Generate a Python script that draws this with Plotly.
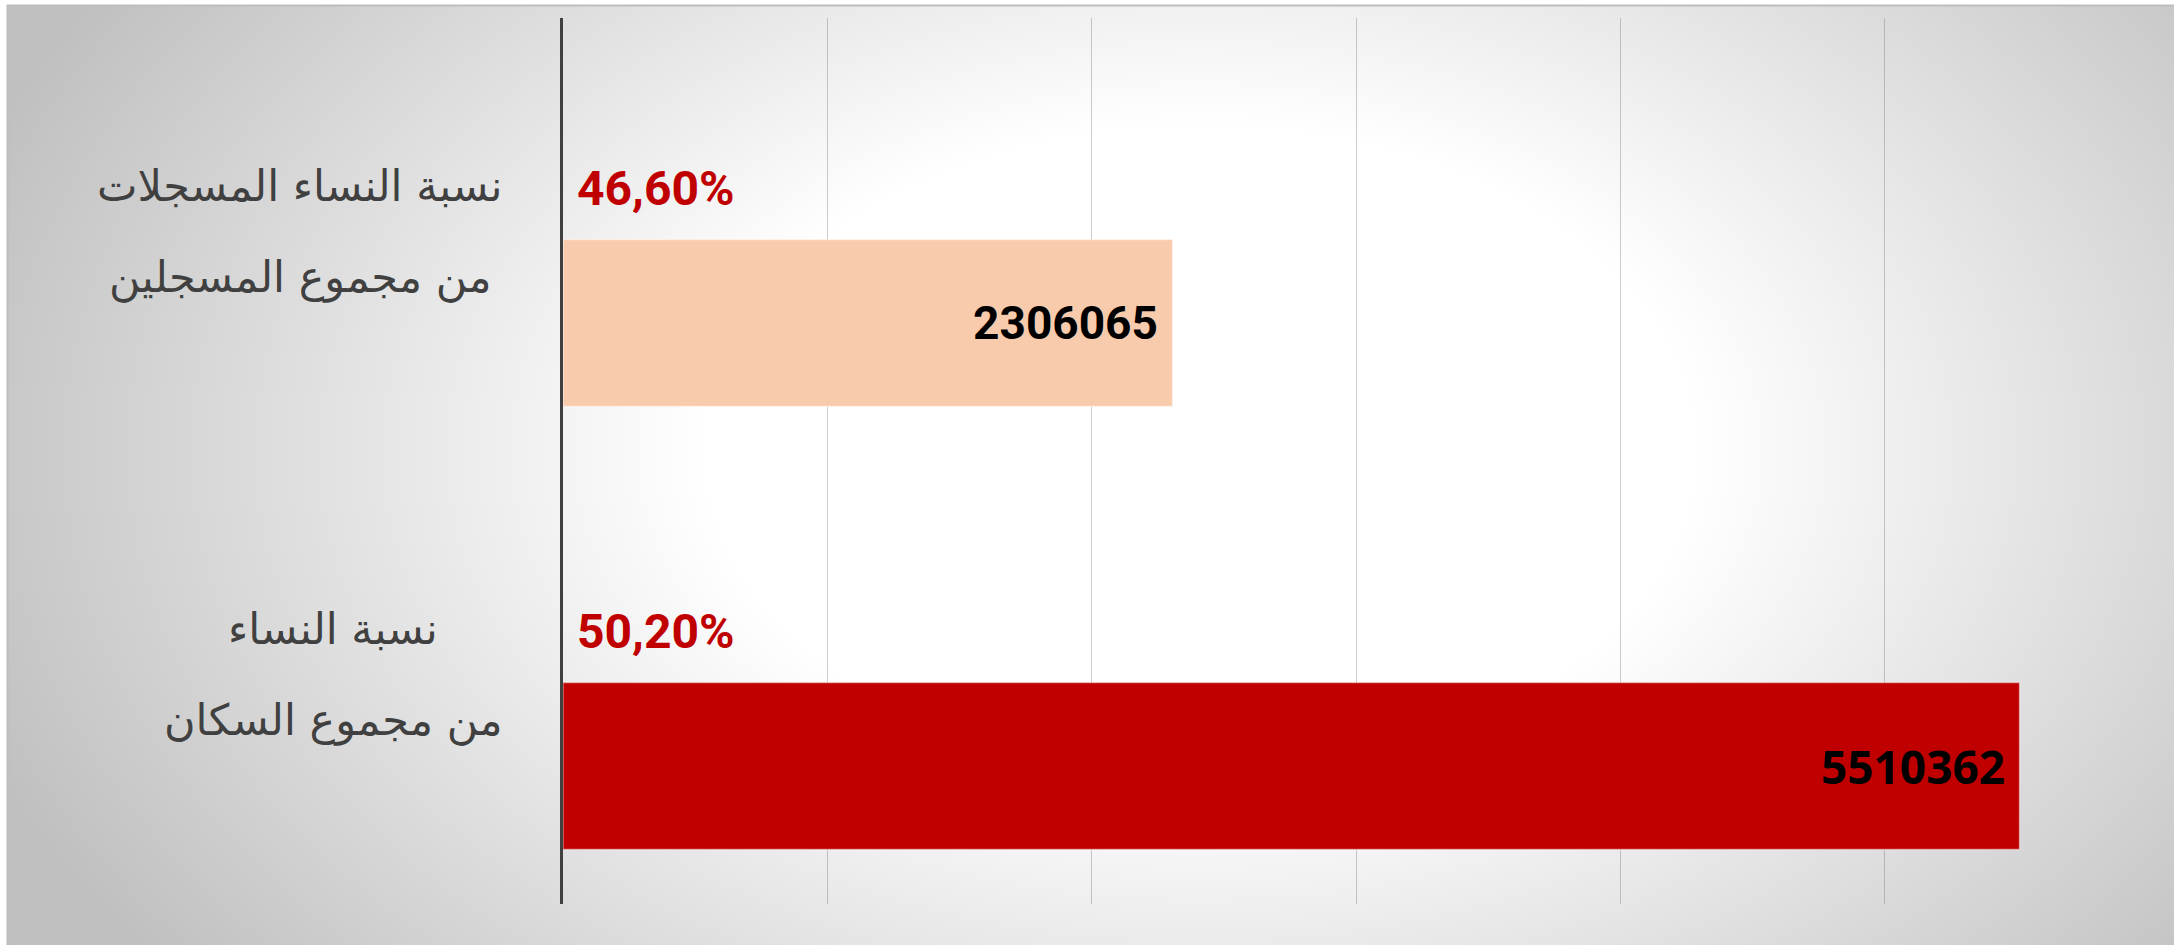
import base64
import plotly.graph_objects as go

# categories, bottom to top (plotly puts the first category at the bottom)
categories = ["نسبة النساء من مجموع السكان", "نسبة النساء المسجلات من مجموع المسجلين"]
label_lines = [["نسبة النساء", "من مجموع السكان"],
               ["نسبة النساء المسجلات", "من مجموع المسجلين"]]
counts = [5510362, 2306065]
shares = [50.20, 46.60]
bar_colors = ["#C00000", "#F8CBAD"]
x_ticks = [0, 1000000, 2000000, 3000000, 4000000, 5000000, 6000000]

W, H = 2174, 945
ML, MR, MT, MB = 563, 25, 18, 41
PW, PH = W - ML - MR, H - MT - MB

# radial grey background like the office chart style
CX, CY, RX, RY = 1200, 450, 1300, 850
bg_svg = f'''<svg xmlns="http://www.w3.org/2000/svg" width="{W}" height="{H}" viewBox="0 0 {W} {H}" preserveAspectRatio="none">
<defs><radialGradient id="g" gradientUnits="userSpaceOnUse" cx="{CX}" cy="{CY}" r="{RX}"
 gradientTransform="translate({CX} {CY}) scale(1 {RY / RX:.4f}) translate(-{CX} -{CY})">
<stop offset="0" stop-color="#ffffff"/><stop offset="0.38" stop-color="#ffffff"/>
<stop offset="1" stop-color="#c0c0c0"/></radialGradient></defs>
<rect width="{W}" height="{H}" fill="#ffffff"/>
<rect x="7" y="5" width="{W - 7}" height="{H - 5}" fill="url(#g)"/>
<path d="M7.5 {H} V5.5 H{W}" stroke="#bdbdbd" stroke-width="2" fill="none"/>
</svg>'''
bg_uri = "data:image/svg+xml;base64," + base64.b64encode(bg_svg.encode("utf-8")).decode()

pad = "\u2005"
fig = go.Figure()
fig.add_trace(go.Bar(
    y=categories, x=counts, orientation="h",
    marker=dict(color=bar_colors, line=dict(color="rgba(255,255,255,0.45)", width=1.5)),
    width=0.377, offset=-0.377,
    text=[str(v) + pad for v in counts],
    textposition="inside", insidetextanchor="end", textangle=0,
    textfont=dict(family=["Open Sans", "Roboto"],
                  size=[46, 46], color="#000000", weight="bold"),
    hoverinfo="skip", showlegend=False,
))

for cat, s in zip(categories, shares):
    fig.add_annotation(x=0, y=cat, xref="x", yref="y", xanchor="left", yanchor="middle",
                       xshift=12, yshift=51, showarrow=False,
                       text=("%.2f%%" % s).replace(".", ","),
                       font=dict(family="Roboto", size=48,
                                 color="#C00000", weight="bold"))

label_centers = [333, 300]
for cat, lines, cx in zip(categories, label_lines, label_centers):
    for k, line in enumerate(lines):
        fig.add_annotation(x=(cx - ML) / PW, y=cat, xref="paper", yref="y",
                           xanchor="center", yanchor="middle", showarrow=False,
                           yshift=54 if k == 0 else -38, text=line,
                           font=dict(family="DejaVu Sans", size=43, color="#404040"))

fig.add_layout_image(dict(source=bg_uri, xref="paper", yref="paper",
                          x=-ML / PW, y=1 + MT / PH, sizex=W / PW, sizey=H / PH,
                          xanchor="left", yanchor="top", sizing="stretch", layer="below"))

fig.update_layout(
    width=W, height=H, autosize=False,
    margin=dict(l=ML, r=MR, t=MT, b=MB, pad=0),
    paper_bgcolor="rgba(0,0,0,0)", plot_bgcolor="rgba(0,0,0,0)",
    bargap=0.246,
    xaxis=dict(range=[0, 6000000], tickvals=x_ticks, showticklabels=False,
               showgrid=True, gridcolor="rgba(110,110,110,0.35)", gridwidth=1,
               zeroline=False, showline=False, ticks=""),
    yaxis=dict(type="category", categoryorder="array", categoryarray=categories,
               range=[-0.5, 1.5], showticklabels=False, showgrid=False, ticks="",
               showline=True, linecolor="#404040", linewidth=3, zeroline=False),
)

fig.write_html("out.html", config={"displayModeBar": False},
               post_script="document.body.style.margin='0px';")
